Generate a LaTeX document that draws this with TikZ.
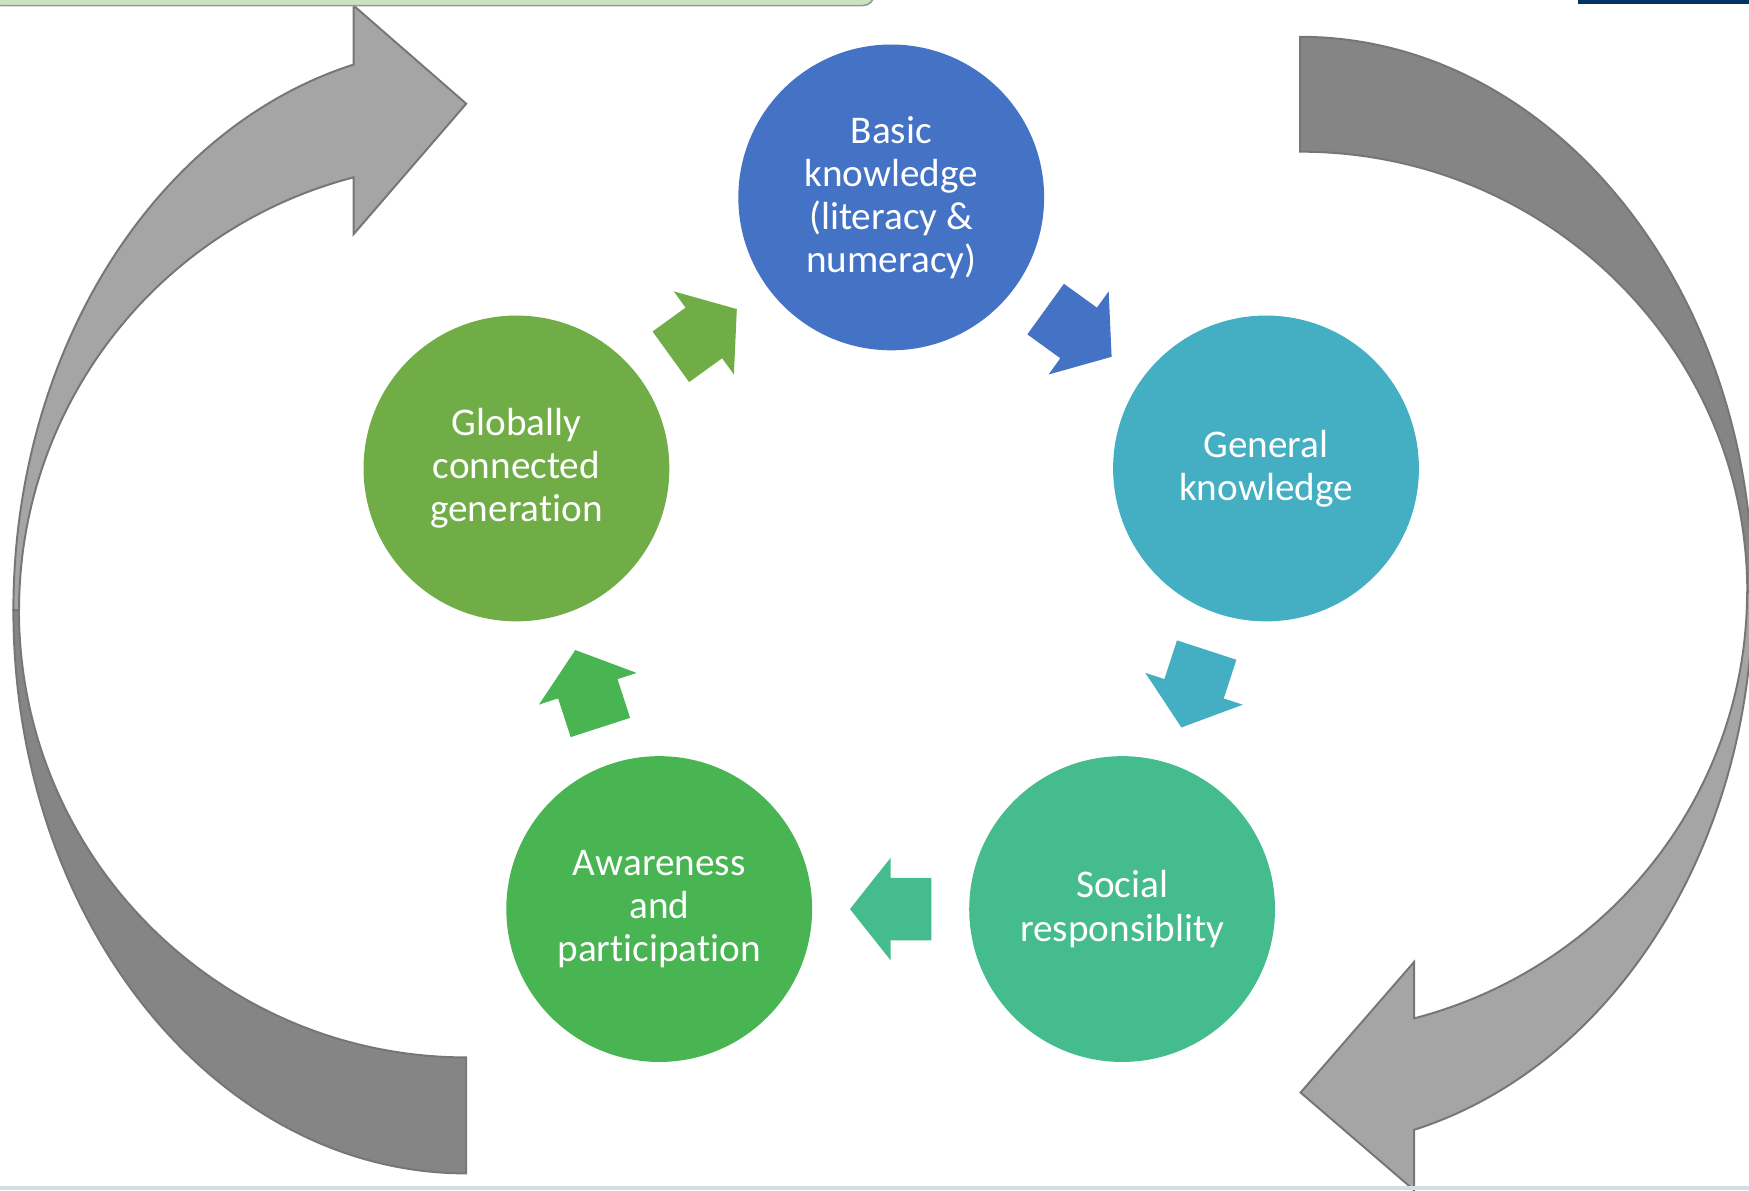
\documentclass[tikz,border=0pt]{standalone}
\usepackage{fontspec}
\setmainfont{Carlito}[Ligatures={NoCommon}]
\usetikzlibrary{calc}
\definecolor{basicblue}{RGB}{68,114,196}
\definecolor{generalteal}{RGB}{68,174,194}
\definecolor{socialgreen}{RGB}{69,188,141}
\definecolor{awaregreen}{RGB}{72,180,82}
\definecolor{globalgreen}{RGB}{112,173,71}
\definecolor{lightgrey}{RGB}{165,165,165}
\definecolor{darkgrey}{RGB}{133,133,133}
\definecolor{edgegrey}{RGB}{118,118,118}
\definecolor{barnavy}{RGB}{0,51,102}
\definecolor{barmint}{RGB}{204,228,190}
\definecolor{bandgrey}{RGB}{214,220,229}
\tikzset{
	bubble/.style={circle, minimum size=2.74cm, inner sep=0pt, text=white, align=center, font=\fontsize{10}{11}\selectfont},
	bigarrow/.style={draw=edgegrey, line width=0.5pt}
}
\def\cyclearrow[#1](#2)(#3){%
	\pgfmathanglebetweenpoints{\pgfpointanchor{#2}{center}}{\pgfpointanchor{#3}{center}}%
	\let\arrowangle\pgfmathresult
	\fill[#1, shift={($(#2)!0.5!(#3)$)}, rotate=\arrowangle] (-36.5, -28) -- (0, -28) -- (0, -46) -- (36.5, 0) -- (0, 46) -- (0, 28) -- (-36.5, 28) -- cycle;}

\begin{document}
\begin{tikzpicture}[x=0.01cm, y=0.01cm]
			%%%%% START %%%%%
			\useasboundingbox (0, 0) rectangle (1568, 1067);
			
			\draw[bigarrow, fill=darkgrey] (12, 520) arc[start angle=180, end angle=270, x radius=406, y radius=505] -- (418, 119) arc[start angle=270, end angle=180, radius=401] -- cycle;
			\draw[bigarrow, fill=lightgrey] (12, 520) arc[start angle=180, end angle=104.4, x radius=406, y radius=505] -- (317, 1062) -- (418, 974) -- (317, 857) -- (317, 908) arc[start angle=104.6, end angle=180, radius=401] -- cycle;
			
			\draw[bigarrow, fill=darkgrey] (1165.5, 1034) arc[start angle=90, end angle=0, x radius=406, y radius=498] -- (1566.5, 536) arc[start angle=0, end angle=90, x radius=401, y radius=395] -- cycle;
			\draw[bigarrow, fill=lightgrey] (1571.5, 536) arc[start angle=0, end angle=-75.4, x radius=406, y radius=498] -- (1267.7, 0) -- (1166, 87.5) -- (1267.7, 204.5) -- (1267.7, 154) arc[start angle=-75.2, end angle=0, x radius=401, y radius=395] -- cycle;
			
			\node[bubble, fill=basicblue] (basic) at (799, 890) {Basic\\knowledge\\(literacy \&\\numeracy)};
			\node[bubble, fill=generalteal] (general) at (1135, 647) {General\\knowledge};
			\node[bubble, fill=socialgreen] (social) at (1006, 252) {Social\\responsiblity};
			\node[bubble, fill=awaregreen] (aware) at (591, 252) {Awareness\\and\\participation};
			\node[bubble, fill=globalgreen] (globally) at (463, 647) {Globally\\connected\\generation};
			
			\cyclearrow[basicblue](basic)(general)
			\cyclearrow[generalteal](general)(social)
			\cyclearrow[socialgreen](social)(aware)
			\cyclearrow[awaregreen](aware)(globally)
			\cyclearrow[globalgreen](globally)(basic)
			
			\draw[fill=barmint, draw=gray!80, rounded corners=3] (-10, 1062) rectangle (784, 1080);
			\fill[barnavy] (1415, 1063) rectangle (1568, 1067);
			\fill[bandgrey] (0, 0) rectangle (1568, 4);
			
			%%%%% END %%%%%
		\end{tikzpicture}
\end{document}
